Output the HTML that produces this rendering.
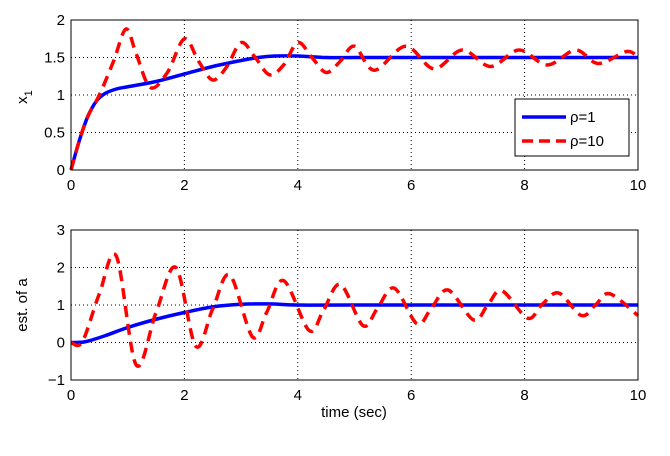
<!DOCTYPE html>
<html><head><meta charset="utf-8"><style>
body{margin:0;background:#fff;}
svg text{font-family:"Liberation Sans",Arial,sans-serif;font-size:15px;fill:#000;}
</style></head><body>
<svg id="c" width="670" height="433" viewBox="0 0 670 433"></svg>
<script>
const tTop=[0,0.15,0.3,0.45,0.6,0.8,1,1.5,2,2.5,3,3.3,3.6,4,4.5,5,6,8,10];
const blueTop=[0,0.4,0.72,0.92,1.02,1.08,1.11,1.18,1.28,1.38,1.46,1.5,1.52,1.52,1.5,1.5,1.5,1.5,1.5];
const tRedTop=[0,0.15,0.3,0.5,0.75,0.97,1.15,1.4,1.7,2.0,2.25,2.5,2.75,3.0,3.25,3.5,3.75,4.0,4.25,4.5,4.75,5.0,5.35,5.9,6.4,6.9,7.4,7.9,8.4,8.9,9.3,9.8,10];
const redTop=[0,0.4,0.72,1.0,1.45,1.88,1.55,1.1,1.3,1.75,1.45,1.2,1.38,1.7,1.5,1.27,1.4,1.7,1.5,1.3,1.45,1.65,1.33,1.65,1.35,1.6,1.38,1.6,1.4,1.6,1.42,1.58,1.5];
const tBot=[0,0.25,0.6,1,1.5,2,2.5,3,3.5,4,5,10];
const blueBot=[0,0.02,0.18,0.4,0.62,0.8,0.95,1.02,1.03,1.0,1.0,1.0];
const tRedBot=[0,0.2,0.5,0.8,1.15,1.5,1.85,2.2,2.5,2.8,3.2,3.45,3.75,4.2,4.45,4.75,5.15,5.4,5.7,6.1,6.35,6.65,7.1,7.35,7.6,8.05,8.3,8.6,9.0,9.25,9.5,10];
const redBot=[0,0.02,1.3,2.3,-0.6,0.8,2.0,-0.1,0.9,1.8,0.15,0.8,1.65,0.32,0.85,1.55,0.45,0.9,1.45,0.5,0.9,1.4,0.6,1.0,1.38,0.65,1.0,1.32,0.72,1.0,1.3,0.72];
const xTicks=[0,2,4,6,8,10];
const yTopTicks=[0,0.5,1,1.5,2];
const yBotTicks=[-1,0,1,2,3];
const NS='http://www.w3.org/2000/svg';
const svg=document.getElementById('c');
function mk(tag,at,parent){const e=document.createElementNS(NS,tag);for(const k in at)e.setAttribute(k,at[k]);(parent||svg).appendChild(e);return e;}
const X0=71,X1=638;
function sx(v){return X0+(v-0)/(10-0)*(X1-X0);}
function smooth(xs,ys,fx,fy){const p=xs.map((x,i)=>[fx(x),fy(ys[i])]);let d='M'+p[0][0]+','+p[0][1];for(let i=0;i<p.length-1;i++){const p0=p[Math.max(0,i-1)],p1=p[i],p2=p[i+1],p3=p[Math.min(p.length-1,i+2)];const c1=[p1[0]+(p2[0]-p0[0])/6,p1[1]+(p2[1]-p0[1])/6],c2=[p2[0]-(p3[0]-p1[0])/6,p2[1]-(p3[1]-p1[1])/6];d+=`C${c1[0]},${c1[1]} ${c2[0]},${c2[1]} ${p2[0]},${p2[1]}`;}return d;}
function panel(name,top,bot,ymin,ymax,yt,tb,bb,tr,rr,ylabel){
  const sy=v=>bot-(v-ymin)/(ymax-ymin)*(bot-top);
  const g=mk('g',{});
  xTicks.forEach(v=>{if(v>0&&v<10){const l=mk('line',{x1:sx(v),x2:sx(v),y1:top,y2:bot,stroke:'#000','stroke-width':1,'stroke-dasharray':'1,3'},g);}
    const t=mk('text',{x:sx(v),y:bot+20,'text-anchor':'middle'},g);t.textContent=v;});
  yt.forEach(v=>{if(v>ymin&&v<ymax){const l=mk('line',{x1:X0,x2:X1,y1:sy(v),y2:sy(v),stroke:'#000','stroke-width':1,'stroke-dasharray':'1,3'},g);}
    const t=mk('text',{x:X0-6,y:sy(v)+5,'text-anchor':'end'},g);t.textContent=v<0?'\u2212'+(-v):v;});
  const b=mk('path',{d:smooth(tb,bb,sx,sy),fill:'none',stroke:'#0000ff','stroke-width':3.5},g);
  const r=mk('path',{d:smooth(tr,rr,sx,sy),fill:'none',stroke:'#ff0000','stroke-width':3.5,'stroke-dasharray':'11,7'},g);
  const f=mk('rect',{x:X0,y:top,width:X1-X0,height:bot-top,fill:'none',stroke:'#000','stroke-width':1},g);
  return g;
}
panel('top',20,170,0,2,yTopTicks,tTop,blueTop,tRedTop,redTop);
panel('bottom',230,380,-1,3,yBotTicks,tBot,blueBot,tRedBot,redBot);
</script>
<svg width="0" height="0"></svg>
<script>
(function(){const svg=document.getElementById('c');const NS='http://www.w3.org/2000/svg';
function mk(tag,at){const e=document.createElementNS(NS,tag);for(const k in at)e.setAttribute(k,at[k]);svg.appendChild(e);return e;}
let t=mk('text',{x:0,y:0,transform:'translate(27,97) rotate(-90)','text-anchor':'middle'});t.innerHTML='x<tspan dy="5" font-size="11">1</tspan>';


t=mk('text',{x:0,y:0,transform:'translate(27,305) rotate(-90)','text-anchor':'middle'});t.textContent='est. of a';


t=mk('text',{x:354,y:417,'text-anchor':'middle'});t.textContent='time (sec)';


const lg=mk('rect',{x:515,y:99,width:114,height:57,fill:'#fff',stroke:'#000','stroke-width':1});


let l=mk('line',{x1:522,x2:566,y1:117,y2:117,stroke:'#0000ff','stroke-width':3.5});


l=mk('line',{x1:522,x2:566,y1:141,y2:141,stroke:'#ff0000','stroke-width':3.5,'stroke-dasharray':'11,6'});


t=mk('text',{x:570,y:122});t.textContent='ρ=1';


t=mk('text',{x:570,y:146});t.textContent='ρ=10';


})();
</script>
</body></html>
